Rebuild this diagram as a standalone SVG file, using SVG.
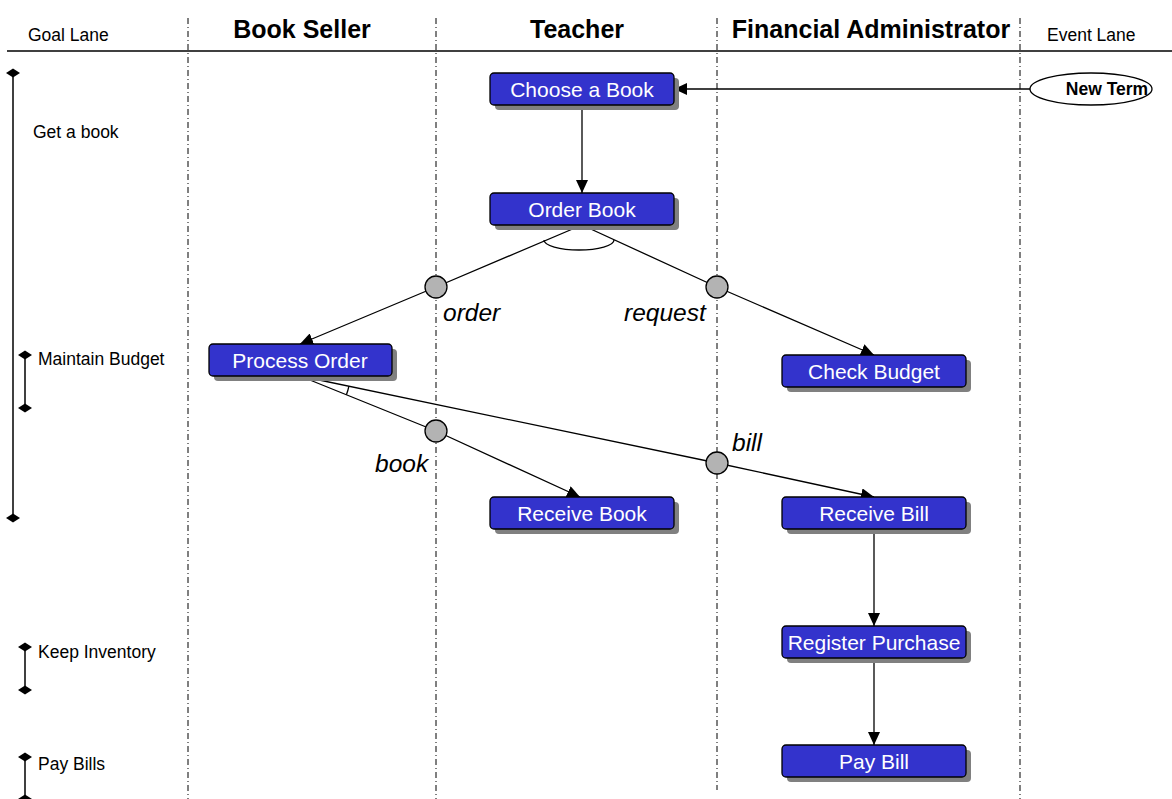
<svg xmlns="http://www.w3.org/2000/svg" width="1172" height="799" viewBox="0 0 1172 799">
<style>
.lane{stroke:#000;stroke-width:1;stroke-dasharray:6,3,1,3;fill:none}
.hdr{font-family:"Liberation Sans",Arial,sans-serif;font-weight:bold;font-size:25px;fill:#000;text-anchor:middle}
.small{font-family:"Liberation Sans",Arial,sans-serif;font-size:17.5px;fill:#000}
.shadow{fill:#808080}
.box{fill:#3333CC;stroke:#000;stroke-width:1.3}
.nt{font-family:"Liberation Sans",Arial,sans-serif;font-size:21px;fill:#fff;text-anchor:middle}
.lbl{font-family:"Liberation Sans",Arial,sans-serif;font-size:24.5px;font-style:italic;fill:#000}
.ln{stroke:#000;stroke-width:1.3;fill:none}
.dot{fill:#B3B3B3;stroke:#000;stroke-width:1.3}
.goal{stroke:#000;stroke-width:1.5}
</style>
<defs>
<marker id="ah" markerWidth="14" markerHeight="12" refX="13" refY="6" orient="auto" markerUnits="userSpaceOnUse">
<path d="M0,0 L13,6 L0,12 Z" fill="#000"/>
</marker>
<path id="dia" d="M-7,0 L0,-4.5 L7,0 L0,4.5 Z" fill="#000"/>
</defs>
<rect width="1172" height="799" fill="#fff"/>

<g id="header">
<line x1="7" y1="51" x2="1172" y2="51" stroke="#000" stroke-width="1.3"/>
<line class="lane" x1="188" y1="18" x2="188" y2="799"/>
<line class="lane" x1="436" y1="18" x2="436" y2="799"/>
<line class="lane" x1="717" y1="18" x2="717" y2="790"/>
<line class="lane" x1="1020" y1="18" x2="1020" y2="799"/>
<text class="small" x="28" y="41">Goal Lane</text>
<text class="hdr" x="302" y="38">Book Seller</text>
<text class="hdr" x="577" y="38">Teacher</text>
<text class="hdr" x="871" y="38">Financial Administrator</text>
<text class="small" x="1047" y="41">Event Lane</text>
</g>

<g id="goals">
<line class="goal" x1="13" y1="73" x2="13" y2="518"/>
<use href="#dia" x="13" y="73"/>
<use href="#dia" x="13" y="518"/>
<text class="small" x="33" y="138">Get a book</text>
<line class="goal" x1="25" y1="355" x2="25" y2="408"/>
<use href="#dia" x="25" y="355"/>
<use href="#dia" x="25" y="408"/>
<text class="small" x="38" y="365">Maintain Budget</text>
<line class="goal" x1="25" y1="647" x2="25" y2="690"/>
<use href="#dia" x="25" y="647"/>
<use href="#dia" x="25" y="690"/>
<text class="small" x="38" y="658">Keep Inventory</text>
<line class="goal" x1="25" y1="757" x2="25" y2="799"/>
<use href="#dia" x="25" y="757"/>
<use href="#dia" x="25" y="799"/>
<text class="small" x="38" y="770">Pay Bills</text>
</g>

<g id="connectors">
<line class="ln" x1="1030" y1="89" x2="674" y2="89" marker-end="url(#ah)"/>
<line class="ln" x1="582" y1="105" x2="582" y2="193" marker-end="url(#ah)"/>
<polyline class="ln" points="582,225 436,287 300,344" marker-end="url(#ah)"/>
<polyline class="ln" points="582,225 717,287 874,355" marker-end="url(#ah)"/>
<path class="ln" d="M544,240 A35,10 0 0 0 614,240"/>
<polyline class="ln" points="300,376 436,431 580,497" marker-end="url(#ah)"/>
<polyline class="ln" points="300,376 717,463 874,497" marker-end="url(#ah)"/>
<path class="ln" d="M348.9,386.2 A50,50 0 0 1 346.4,394.7" stroke-width="1"/>
<line class="ln" x1="874" y1="529" x2="874" y2="626" marker-end="url(#ah)"/>
<line class="ln" x1="874" y1="658" x2="874" y2="745" marker-end="url(#ah)"/>
<circle class="dot" cx="436" cy="287" r="11"/>
<circle class="dot" cx="717" cy="287" r="11"/>
<circle class="dot" cx="436" cy="431" r="11"/>
<circle class="dot" cx="717" cy="463" r="11"/>
<text class="lbl" x="443" y="321">order</text>
<text class="lbl" x="624" y="321">request</text>
<text class="lbl" x="375" y="472">book</text>
<text class="lbl" x="732" y="451">bill</text>
</g>

<g id="new-term">
<ellipse cx="1091" cy="89" rx="61" ry="16" fill="#fff" stroke="#000" stroke-width="1.3"/>
<text x="1107" y="95" font-family="Liberation Sans, Arial, sans-serif" font-size="17.5" font-weight="bold" text-anchor="middle">New Term</text>
</g>

<g id="choose-a-book">
<rect class="shadow" x="495" y="78" width="184" height="32" rx="4"/>
<rect class="box" x="490" y="73" width="184" height="32" rx="4"/>
<text class="nt" x="582" y="97">Choose a Book</text>
</g>
<g id="order-book">
<rect class="shadow" x="495" y="198" width="184" height="32" rx="4"/>
<rect class="box" x="490" y="193" width="184" height="32" rx="4"/>
<text class="nt" x="582" y="217">Order Book</text>
</g>
<g id="process-order">
<rect class="shadow" x="214" y="349" width="183" height="32" rx="4"/>
<rect class="box" x="209" y="344" width="183" height="32" rx="4"/>
<text class="nt" x="300" y="368">Process Order</text>
</g>
<g id="check-budget">
<rect class="shadow" x="787" y="360" width="184" height="32" rx="4"/>
<rect class="box" x="782" y="355" width="184" height="32" rx="4"/>
<text class="nt" x="874" y="379">Check Budget</text>
</g>
<g id="receive-book">
<rect class="shadow" x="495" y="502" width="184" height="32" rx="4"/>
<rect class="box" x="490" y="497" width="184" height="32" rx="4"/>
<text class="nt" x="582" y="521">Receive Book</text>
</g>
<g id="receive-bill">
<rect class="shadow" x="787" y="502" width="184" height="32" rx="4"/>
<rect class="box" x="782" y="497" width="184" height="32" rx="4"/>
<text class="nt" x="874" y="521">Receive Bill</text>
</g>
<g id="register-purchase">
<rect class="shadow" x="787" y="631" width="184" height="32" rx="4"/>
<rect class="box" x="782" y="626" width="184" height="32" rx="4"/>
<text class="nt" x="874" y="650">Register Purchase</text>
</g>
<g id="pay-bill">
<rect class="shadow" x="787" y="750" width="184" height="32" rx="4"/>
<rect class="box" x="782" y="745" width="184" height="32" rx="4"/>
<text class="nt" x="874" y="769">Pay Bill</text>
</g>
</svg>
